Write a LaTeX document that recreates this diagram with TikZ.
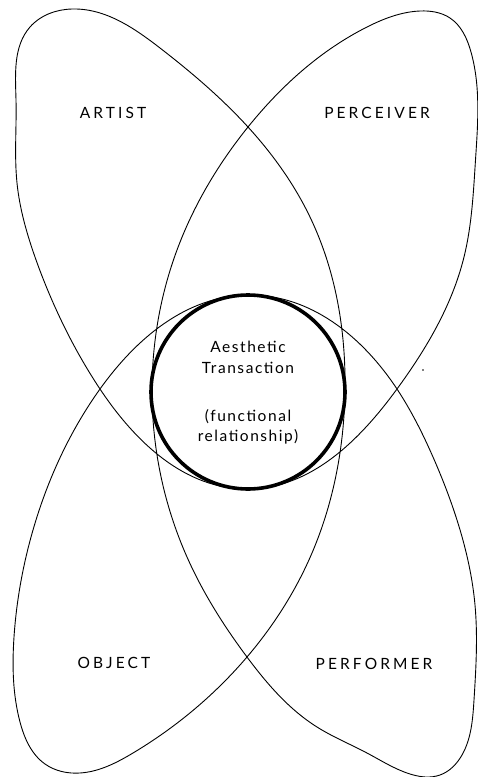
\documentclass[tikz,border=0pt]{standalone}
\usepackage{fontspec}
\setmainfont{Lato}
\usetikzlibrary{hobby}
\begin{document}
\begin{tikzpicture}[x=1pt,y=-1pt,
  petal/.style={line width=0.9pt, line join=round},
  hub/.style={line width=3.6pt},
  caplabel/.style={font=\fontsize{15.5}{17}\selectfont\addfontfeature{LetterSpace=20}, inner sep=0pt},
  txt/.style={font=\fontsize{15.5}{18}\selectfont\addfontfeature{LetterSpace=10}, anchor=base, inner sep=0pt}]
\useasboundingbox (0,0) rectangle (477,777);
\coordinate (C) at (248,392);
\coordinate (XT) at (248,127);
\coordinate (XB) at (247,657);
\coordinate (XL) at (100,389);
\coordinate (XR) at (397,389);
\draw[petal] plot[closed hobby] coordinates {
 (XT) (160,48) (72,9) (30,27) (16,100) (17,183) (35,257) (55,307)
 (XL) (248,489) (XR)
 (464,257) (475.5,160) (471,52) (450,18) (420,11) (367,27)
 (XT) (177,250) (152,390) (187,557)
 (XB) (317,727) (367,753) (410,774) (440,775) (462,755) (474,700)
 (475,605) (457,520) (433,457)
 (XR) (248,295) (XL)
 (33,530) (14,637) (20,722) (45,764) (80,773) (133,753)
 (XB) (312,553) (345,390) (310,217)};
\draw[hub] (C) circle[radius=97pt];
\node[caplabel] (artist) at (113,113) {ARTIST};
\node[caplabel] (perceiver) at (377,113) {PERCEIVER};
\node[caplabel] (object) at (114,663) {OBJECT};
\node[caplabel] (performer) at (374,664) {PERFORMER};
\node[txt] (l1) at (248,352) {Aesthetic};
\node[txt] (l2) at (248,373) {Transaction};
\node[txt] (l3) at (248,421) {(functional};
\node[txt] (l4) at (248,441) {relationship)};
\fill (423,370) circle[radius=0.9pt];
\end{tikzpicture}
\end{document}
